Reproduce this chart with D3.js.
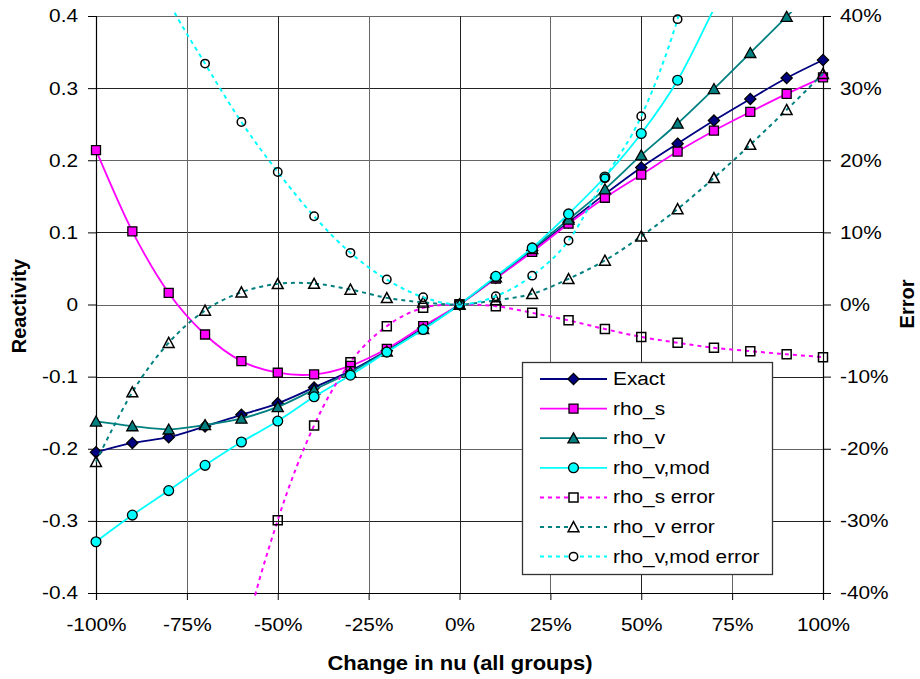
<!DOCTYPE html>
<html><head><meta charset="utf-8">
<script src="https://cdn.jsdelivr.net/npm/d3@7"></script>
<style>
body{margin:0;background:#fff}
svg{display:block}
text{font-family:"Liberation Sans",Arial,sans-serif;fill:#000}
</style>
</head><body>
<svg id="c" width="920" height="679"></svg>
<script>
// ---- data ----
const changePct = [-100,-90,-80,-70,-60,-50,-40,-30,-20,-10,0,10,20,30,40,50,60,70,80,90,100];
const exact      = [-0.205,-0.192,-0.184,-0.169,-0.153,-0.137,-0.115,-0.092,-0.064,-0.033,0,0.037,0.075,0.114,0.153,0.190,0.223,0.255,0.285,0.314,0.339];
const rhoS       = [0.214,0.1015,0.016,-0.0416,-0.0785,-0.0946,-0.097,-0.085,-0.0614,-0.030,0,0.036,0.073,0.112,0.148,0.180,0.212,0.241,0.267,0.292,0.315];
const rhoV       = [-0.162,-0.1685,-0.173,-0.167,-0.158,-0.142,-0.118,-0.094,-0.065,-0.034,0,0.038,0.077,0.118,0.160,0.207,0.251,0.299,0.349,0.399,0.452];
const rhoVmod    = [-0.329,-0.292,-0.258,-0.223,-0.1907,-0.1616,-0.128,-0.098,-0.066,-0.0346,0,0.039,0.0785,0.1256,0.1768,0.237,0.311,0.41,0.51,0.63,0.77];
const rhoSerr    = [-2.04,-1.53,-1.09,-0.75,-0.48,-0.299,-0.1676,-0.080,-0.030,-0.0046,0,-0.0023,-0.0115,-0.022,-0.034,-0.045,-0.053,-0.060,-0.0647,-0.069,-0.073];
const rhoVerr    = [-0.218,-0.1215,-0.053,-0.0083,0.017,0.0286,0.029,0.0208,0.0092,0.003,0,0.006,0.0148,0.0356,0.061,0.0946,0.1325,0.1755,0.2216,0.270,0.32];
const rhoVmodErr = [0.61,0.53,0.42,0.334,0.253,0.1838,0.1223,0.0716,0.0346,0.0101,0,0.0115,0.040,0.0886,0.175,0.261,0.3956,0.59,0.77,1.0,1.27];

const seriesNames = ["Exact","rho_s","rho_v","rho_v,mod","rho_s error","rho_v error","rho_v,mod error"];

const xTickValues = [-100,-75,-50,-25,0,25,50,75,100];
const xTickLabels = ["-100%","-75%","-50%","-25%","0%","25%","50%","75%","100%"];
const yTickValues = [-0.4,-0.3,-0.2,-0.1,0,0.1,0.2,0.3,0.4];
const yTickLabels = ["-0.4","-0.3","-0.2","-0.1","0","0.1","0.2","0.3","0.4"];
const y2TickLabels = ["-40%","-30%","-20%","-10%","0%","10%","20%","30%","40%"];
const xTitle = "Change in nu (all groups)";
const yTitle = "Reactivity";
const y2Title = "Error";

// ---- layout ----
const svg = d3.select("#c");
const P = {left:96, right:823, top:16, bottom:593};
const x = d3.scaleLinear().domain([-100,100]).range([P.left,P.right]);
const y = d3.scaleLinear().domain([-0.4,0.4]).range([P.bottom,P.top]);
const FS = 18.6, K = 1.12;

function widen(sel,k){
  sel.each(function(){
    const t=d3.select(this); const x0=+t.attr("x")||0;
    t.attr("transform",`translate(${x0*(1-k)},0) scale(${k},1)`);
  });
}
const crisp = v => Math.round(v)+0.5;

svg.append("rect").attr("width",920).attr("height",679).attr("fill","#fff");

// gridlines
const grid = svg.append("g");
grid.selectAll("line.h").data(yTickValues).join("line")
  .attr("x1",P.left).attr("x2",P.right)
  .attr("y1",d=>crisp(y(d))).attr("y2",d=>crisp(y(d)))
  .attr("stroke",(d,i)=> i%2? "#222":"#666").attr("stroke-width",1);
grid.selectAll("line.v").data(xTickValues).join("line")
  .attr("y1",P.top).attr("y2",P.bottom)
  .attr("x1",d=>crisp(x(d))).attr("x2",d=>crisp(x(d)))
  .attr("stroke",(d,i)=> i%2? "#666":"#222").attr("stroke-width",1);

// axes
const minorY = d3.range(-0.4,0.4001,0.02);
const minorX = d3.range(-100,100.1,5);
function styleAxis(g){
  g.selectAll("path.domain").attr("stroke","#000").attr("stroke-width",1.2);
  g.selectAll(".tick line").attr("stroke","#000").attr("stroke-width",1);
  g.selectAll(".tick text").attr("font-size",FS).attr("font-family","Liberation Sans, Arial, sans-serif");
}
const gl = svg.append("g").attr("transform",`translate(${P.left},0)`);
gl.call(d3.axisLeft(y).tickValues(minorY).tickSize(6).tickFormat(""));
gl.call(d3.axisLeft(y).tickValues(yTickValues).tickSize(8).tickPadding(10).tickFormat((d,i)=>yTickLabels[i]));
styleAxis(gl); widen(gl.selectAll(".tick text"),K);

const gr = svg.append("g").attr("transform",`translate(${P.right},0)`);
gr.call(d3.axisRight(y).tickValues(minorY).tickSize(6).tickFormat(""));
gr.call(d3.axisRight(y).tickValues(yTickValues).tickSize(8).tickPadding(9).tickFormat((d,i)=>y2TickLabels[i]));
styleAxis(gr); widen(gr.selectAll(".tick text"),K);

const gb = svg.append("g").attr("transform",`translate(0,${P.bottom})`);
gb.call(d3.axisBottom(x).tickValues(minorX).tickSize(5).tickFormat(""));
gb.call(d3.axisBottom(x).tickValues(xTickValues).tickSize(7).tickPadding(18).tickFormat((d,i)=>xTickLabels[i]));
styleAxis(gb); widen(gb.selectAll(".tick text"),K);

// titles
svg.append("text").attr("transform","translate(26,306) rotate(-90)")
  .attr("text-anchor","middle").attr("font-size",20).attr("font-weight","bold").text(yTitle);
svg.append("text").attr("transform","translate(914,304) rotate(-90)")
  .attr("text-anchor","middle").attr("font-size",20).attr("font-weight","bold").text(y2Title);
const xt = svg.append("text").attr("x",460).attr("y",670).attr("text-anchor","middle")
  .attr("font-size",20).attr("font-weight","bold").text(xTitle);
widen(xt,1.1);

// markers
function markerPath(type){
  switch(type){
    case "diamond": return "M0,-5.6L5.6,0L0,5.6L-5.6,0Z";
    case "square": return "M-4.5,-4.5H4.5V4.5H-4.5Z";
    case "triangle": return "M0,-5.3L5.6,4.7H-5.6Z";
    case "circle": return d3.arc()({innerRadius:0,outerRadius:4.9,startAngle:0,endAngle:2*Math.PI});
    case "osquare": return "M-4.5,-4.5H4.5V4.5H-4.5Z";
    case "otriangle": return "M0,-5.3L5.4,4.7H-5.4Z";
    case "ocircle": return d3.arc()({innerRadius:0,outerRadius:4.2,startAngle:0,endAngle:2*Math.PI});
  }
}

const series = [
  {name:seriesNames[0], values:exact,      color:"#000080", dash:null, marker:"diamond",  fill:"#000080"},
  {name:seriesNames[1], values:rhoS,       color:"#FF00FF", dash:null, marker:"square",   fill:"#FF00FF"},
  {name:seriesNames[2], values:rhoV,       color:"#008080", dash:null, marker:"triangle", fill:"#008080"},
  {name:seriesNames[3], values:rhoVmod,    color:"#00FFFF", dash:null, marker:"circle",   fill:"#00FFFF"},
  {name:seriesNames[4], values:rhoSerr,    color:"#FF00FF", dash:"4,4", marker:"osquare",  fill:"none"},
  {name:seriesNames[5], values:rhoVerr,    color:"#008080", dash:"4,4", marker:"otriangle",fill:"none"},
  {name:seriesNames[6], values:rhoVmodErr, color:"#00FFFF", dash:"4,4", marker:"ocircle",  fill:"none"}
];

svg.append("clipPath").attr("id","clip").append("rect")
  .attr("x",P.left-3).attr("y",P.top-4).attr("width",P.right-P.left+6).attr("height",P.bottom-P.top+7);

const line = d3.line().x((d,i)=>x(changePct[i])).y(d=>y(d)).curve(d3.curveCardinal.tension(0));
const plotG = svg.append("g");
series.forEach(s=>{
  plotG.append("path").attr("clip-path","url(#clip)")
    .attr("d",line(s.values)).attr("fill","none").attr("stroke",s.color)
    .attr("stroke-width",s.dash?2:1.8).attr("stroke-dasharray",s.dash);
  const pts = s.values.map((v,i)=>({x:changePct[i],v})).filter(p=>p.v>=-0.4005 && p.v<=0.4005);
  plotG.selectAll(null).data(pts).join("path")
    .attr("transform",p=>`translate(${x(p.x)},${y(p.v)})`)
    .attr("d",markerPath(s.marker)).attr("fill",s.fill)
    .attr("stroke","#000").attr("stroke-width",s.fill==="none"?1.5:1.3);
});

// legend
const L = {x:522.5, y:362.5, w:250, h:212, row0:379, step:29.6};
const lg = svg.append("g");
lg.append("rect").attr("x",L.x).attr("y",L.y).attr("width",L.w).attr("height",L.h)
  .attr("fill","#fff").attr("stroke","#333").attr("stroke-width",1.3);
series.forEach((s,i)=>{
  const cy = L.row0 + i*L.step;
  lg.append("line").attr("x1",540).attr("x2",607).attr("y1",cy).attr("y2",cy)
    .attr("stroke",s.color).attr("stroke-width",s.dash?2:1.8).attr("stroke-dasharray",s.dash);
  lg.append("path").attr("transform",`translate(573.5,${cy})`).attr("d",markerPath(s.marker))
    .attr("fill",s.fill==="none"?"#fff":s.fill).attr("stroke","#000").attr("stroke-width",s.fill==="none"?1.5:1.3);
  const t = lg.append("text").attr("x",613).attr("y",cy+6).attr("font-size",FS).text(s.name);
  widen(t,K);
});
</script>
</body></html>
